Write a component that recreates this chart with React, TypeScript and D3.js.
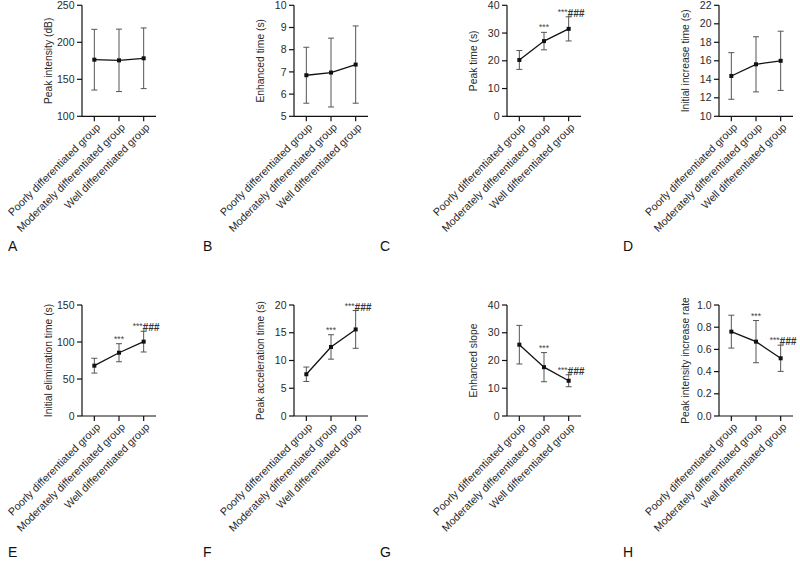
import React from "react";
import * as d3 from "d3";

const groups = [
  "Poorly differentiated group",
  "Moderately differentiated group",
  "Well differentiated group",
];

const panelLetters = ["A", "B", "C", "D", "E", "F", "G", "H"];
const yTitles = [
  "Peak intensity (dB)",
  "Enhanced time (s)",
  "Peak time (s)",
  "Initial increase time (s)",
  "Initial elimination time (s)",
  "Peak acceleration time (s)",
  "Enhanced slope",
  "Peak intensity increase rate",
];

// means and SDs per panel
const peakIntensityMean = [176.5, 175.6, 178.4];
const peakIntensitySD = [41, 42.2, 41];
const enhancedTimeMean = [6.85, 6.97, 7.33];
const enhancedTimeSD = [1.26, 1.55, 1.74];
const peakTimeMean = [20.3, 27.1, 31.5];
const peakTimeSD = [3.4, 3.15, 4.35];
const initialIncreaseMean = [14.36, 15.62, 16.0];
const initialIncreaseSD = [2.52, 2.98, 3.2];
const initialEliminationMean = [68, 85.5, 100.5];
const initialEliminationSD = [10, 12.2, 14];
const peakAccelMean = [7.52, 12.44, 15.6];
const peakAccelSD = [1.3, 2.2, 3.4];
const enhancedSlopeMean = [25.7, 17.6, 12.7];
const enhancedSlopeSD = [6.95, 5.25, 2.15];
const peakRateMean = [0.76, 0.67, 0.52];
const peakRateSD = [0.148, 0.19, 0.118];

const means = [
  peakIntensityMean, enhancedTimeMean, peakTimeMean, initialIncreaseMean,
  initialEliminationMean, peakAccelMean, enhancedSlopeMean, peakRateMean,
];
const sds = [
  peakIntensitySD, enhancedTimeSD, peakTimeSD, initialIncreaseSD,
  initialEliminationSD, peakAccelSD, enhancedSlopeSD, peakRateSD,
];

const yTicks = [
  [100, 150, 200, 250],
  [5, 6, 7, 8, 9, 10],
  [0, 10, 20, 30, 40],
  [10, 12, 14, 16, 18, 20, 22],
  [0, 50, 100, 150],
  [0, 5, 10, 15, 20],
  [0, 10, 20, 30, 40],
  [0, 0.2, 0.4, 0.6, 0.8, 1.0],
];
const tickFormats = ["d", "d", "d", "d", "d", "d", "d", ".1f"];

// significance labels (index 1 = moderately, 2 = well)
const modSig = ["", "", "***", "", "***", "***", "***", "***"];
const wellStars = ["", "", "***", "", "***", "***", "***", "***"];
const wellHash = ["", "", "###", "", "###", "###", "###", "###"];

// layout
const axisXs = [82, 294, 507, 719];
const rowTops = [5.3, 305];
const plotH = 111;
const plotW = 74;
const letterXs = [8, 203, 380, 623];
const letterYs = [251, 557];

const FONT = "'Liberation Sans', Arial, Helvetica, sans-serif";
const TEXT = "#2a2a2a";

function Panel({ idx }: { idx: number }) {
  const col = idx % 4;
  const row = Math.floor(idx / 4);
  const x0 = axisXs[col];
  const top = rowTops[row];
  const bottom = top + plotH;
  const ticks = yTicks[idx];
  const y = d3
    .scaleLinear()
    .domain([ticks[0], ticks[ticks.length - 1]])
    .range([bottom, top]);
  const x = d3.scalePoint<string>().domain(groups).range([x0, x0 + plotW]).padding(0.5);
  const fmt = d3.format(tickFormats[idx]);
  const m = means[idx];
  const s = sds[idx];
  const line = d3
    .line<number>()
    .x((_, i) => x(groups[i]) as number)
    .y((d) => y(d));
  const cap = 3;
  return (
    <g>
      {/* y axis */}
      <line x1={x0} x2={x0} y1={top} y2={bottom} stroke="#111" strokeWidth={1.2} />
      {ticks.map((t) => (
        <g key={t}>
          <line x1={x0 - 5} x2={x0} y1={y(t)} y2={y(t)} stroke="#111" strokeWidth={1.2} />
          <text
            x={x0 - 7.5}
            y={y(t)}
            dy="0.35em"
            textAnchor="end"
            fontSize={10.5}
            fontFamily={FONT}
            fill={TEXT}
          >
            {fmt(t)}
          </text>
        </g>
      ))}
      {/* x axis */}
      <line x1={x0} x2={x0 + plotW} y1={bottom} y2={bottom} stroke="#111" strokeWidth={1.2} />
      {groups.map((g) => (
        <g key={g}>
          <line
            x1={x(g)}
            x2={x(g)}
            y1={bottom}
            y2={bottom + 5}
            stroke="#111"
            strokeWidth={1.2}
          />
          <text
            transform={`translate(${(x(g) as number) + 4},${bottom + 9}) rotate(-45)`}
            textAnchor="end"
            dy="0.35em"
            fontSize={10.7}
            fontFamily={FONT}
            fill={TEXT}
          >
            {g}
          </text>
        </g>
      ))}
      {/* y title */}
      <text
        transform={`translate(${x0 - 30},${(top + bottom) / 2}) rotate(-90)`}
        textAnchor="middle"
        fontSize={10.3}
        fontFamily={FONT}
        fill={TEXT}
      >
        {yTitles[idx]}
      </text>
      {/* error bars */}
      {m.map((v, i) => {
        const cx = x(groups[i]) as number;
        return (
          <g key={i} stroke="#555" strokeWidth={1}>
            <line x1={cx} x2={cx} y1={y(v + s[i])} y2={y(v - s[i])} />
            <line x1={cx - cap} x2={cx + cap} y1={y(v + s[i])} y2={y(v + s[i])} />
            <line x1={cx - cap} x2={cx + cap} y1={y(v - s[i])} y2={y(v - s[i])} />
          </g>
        );
      })}
      <path d={line(m) || ""} fill="none" stroke="#111" strokeWidth={1.3} />
      {m.map((v, i) => (
        <rect
          key={i}
          x={(x(groups[i]) as number) - 2}
          y={y(v) - 2}
          width={4}
          height={4}
          fill="#111"
        />
      ))}
      {/* significance */}
      {modSig[idx] && (
        <text
          x={x(groups[1])}
          y={y(m[1] + s[1]) - 2}
          textAnchor="middle"
          fontSize={8.5}
          fontFamily={FONT}
          fill="#444"
        >
          {modSig[idx]}
        </text>
      )}
      {wellStars[idx] && (
        <text
          x={(x(groups[2]) as number) - 11}
          y={y(m[2] + s[2]) - 2}
          fontFamily={FONT}
          fill="#444"
        >
          <tspan fontSize={8.5}>{wellStars[idx]}</tspan>
          <tspan fontSize={10} fontStyle="italic" fontWeight="bold" fill="#333" dy={2}>
            {wellHash[idx]}
          </tspan>
        </text>
      )}
      <text
        x={letterXs[col]}
        y={letterYs[row]}
        fontSize={14}
        fontFamily={FONT}
        fill="#111"
      >
        {panelLetters[idx]}
      </text>
    </g>
  );
}

export default function App() {
  return (
    <svg
      width={800}
      height={561}
      style={{ position: "absolute", left: 0, top: 0, background: "#fff" }}
    >
      <rect width={800} height={561} fill="#fff" />
      {panelLetters.map((_, i) => (
        <Panel key={i} idx={i} />
      ))}
    </svg>
  );
}
